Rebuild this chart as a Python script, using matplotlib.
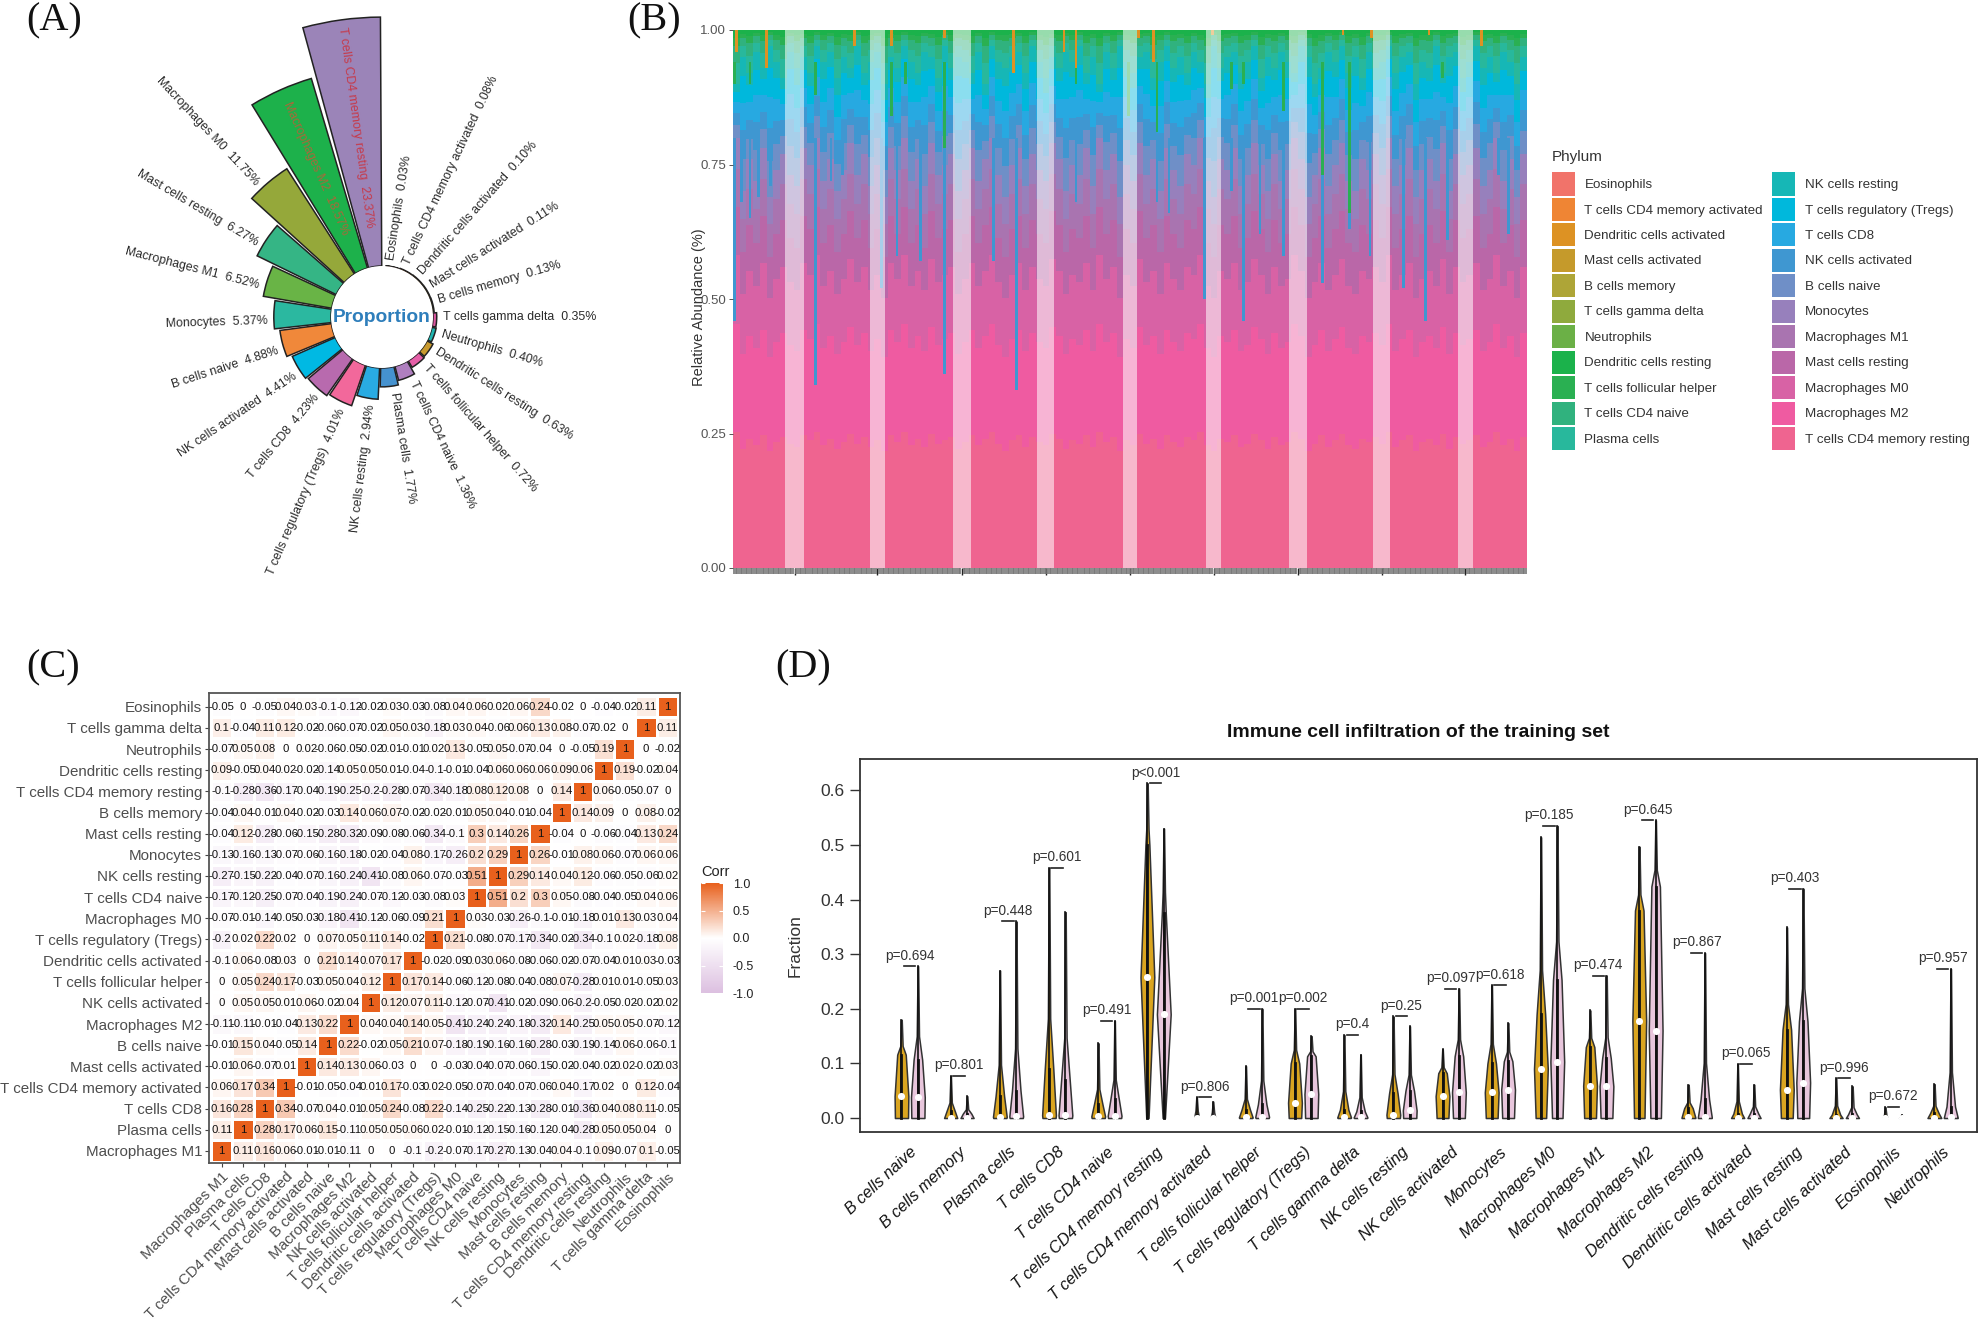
import numpy as np
import matplotlib
matplotlib.use("Agg")
import matplotlib.pyplot as plt
from matplotlib.colors import LinearSegmentedColormap
from matplotlib.patches import Patch
from matplotlib.transforms import ScaledTranslation

plt.rcParams['font.family'] = ['Liberation Sans', 'DejaVu Sans']

W, H = 1980, 1324

# panel A
prop_names = ["Eosinophils", "T cells CD4 memory activated", "Dendritic cells activated", "Mast cells activated",
              "B cells memory", "T cells gamma delta", "Neutrophils", "Dendritic cells resting",
              "T cells follicular helper", "T cells CD4 naive", "Plasma cells", "NK cells resting",
              "T cells regulatory (Tregs)", "T cells CD8", "NK cells activated", "B cells naive", "Monocytes",
              "Macrophages M1", "Mast cells resting", "Macrophages M0", "Macrophages M2", "T cells CD4 memory resting"]
prop_values = [0.03, 0.08, 0.10, 0.11, 0.13, 0.35, 0.40, 0.63, 0.72, 1.36, 1.77, 2.94, 4.01, 4.23, 4.41, 4.88,
               5.37, 6.52, 8.27, 11.75, 18.57, 23.37]
prop_labels = ["0.03%", "0.08%", "0.10%", "0.11%", "0.13%", "0.35%", "0.40%", "0.63%", "0.72%", "1.36%", "1.77%",
               "2.94%", "4.01%", "4.23%", "4.41%", "4.88%", "5.37%", "6.52%", "6.27%", "11.75%", "18.57%", "23.37%"]
prop_colors = ["#F1736A", "#EF8534", "#DD9223", "#C59A2B", "#AEA537", "#D9569E", "#1FB5B0", "#C99A2E", "#E65FA8",
               "#AF7FBF", "#4592CF", "#29ABE2", "#F2689B", "#B86AAE", "#00B9E3", "#F0883A", "#2BB8A0", "#69B446",
               "#35B585", "#95A83A", "#1DB14B", "#9B84B8"]

# panel B
stack_names = ["T cells CD4 memory resting", "Macrophages M2", "Macrophages M0", "Mast cells resting", "Macrophages M1",
               "Monocytes", "B cells naive", "NK cells activated", "T cells CD8", "T cells regulatory (Tregs)",
               "NK cells resting", "Plasma cells", "T cells CD4 naive", "T cells follicular helper",
               "Dendritic cells resting", "Neutrophils", "T cells gamma delta", "B cells memory", "Mast cells activated",
               "Dendritic cells activated", "T cells CD4 memory activated", "Eosinophils"]
stack_means = [23.37, 18.57, 11.75, 8.27, 6.52, 5.37, 4.88, 4.41, 4.23, 4.01, 2.94, 1.77, 1.36, 0.72, 0.63, 0.40,
               0.35, 0.13, 0.11, 0.10, 0.08, 0.03]
stack_colors = ["#EF6490", "#EF5BA1", "#D862A5", "#BA67A8", "#A974B0", "#9780BC", "#6F8FC7", "#3F97D1", "#27A9E1",
                "#00B8DC", "#16B7B6", "#28B89C", "#30B27E", "#2AB052", "#1BB24B", "#6BB046", "#8FAA3D", "#AEA537",
                "#C59A2B", "#DD9223", "#EF8534", "#F1736A"]
legend_names = stack_names[::-1]
legend_colors = stack_colors[::-1]
n_samples = 470
band_edges = [(31, 42), (81, 90), (130, 141), (180, 190), (231, 239), (280, 289), (329, 340), (379, 389), (429, 438)]
# height of the pink-to-purple part and of the blue part, read column by column
lower_top = [.80, .70, .76, .72, .78, .69, .74, .77, .73, .71, .78, .75, .80, .72, .76, .70, .74, .79, .73, .77, .71,
             .75, .69, .78, .74, .80, .72, .76, .71, .79, .73, .75, .77, .70, .74, .78, .72, .76, .80, .73, .69, .75,
             .78, .71, .77, .74, .72, .79, .76, .70, .75, .73, .78, .71, .80, .74, .77, .69, .75, .72, .79, .73, .76,
             .70, .78, .74, .71, .77, .75, .80, .72, .69, .76, .74, .78, .71, .73, .79, .75, .70, .77, .72, .74, .80,
             .76, .69, .73, .78, .71, .75, .79, .72, .70, .76, .74, .77, .73, .80, .71, .75, .78, .69, .74, .76, .72,
             .79, .70, .77, .73, .75, .78, .71, .74, .80, .72, .76, .69, .77]
green_floor = [.90, .95, .92, .96, .93, .97, .94, .91, .96, .93, .95, .92, .97, .94, .96, .91, .95, .93, .97, .92, .94,
               .96, .90, .95, .93, .97, .94, .92, .96, .95, .91, .97, .93, .95, .94, .92, .96, .90, .97, .94, .93, .95,
               .96, .92, .97, .94, .91, .95, .93, .96, .94, .97, .92, .95, .90, .96, .93, .97, .94, .92, .95, .96, .91,
               .94, .97, .93, .95, .92, .96, .94, .90, .97, .93, .95, .96, .92, .94, .97, .91, .95, .93, .96, .94, .92,
               .97, .95, .90, .93, .96, .94, .97, .92, .95, .91, .96, .93, .94, .97, .92, .95, .96, .90, .94, .93, .97,
               .92, .95, .96, .91, .94, .97, .93, .95, .92, .96, .94, .90, .95]
blue_x = [1, 5, 10, 15, 22, 49, 58, 65, 88, 97, 111, 125, 154, 168, 203, 251, 258, 279, 295, 302, 312, 326, 349, 365,
          377, 397, 410, 423, 459, 453]
blue_low = [0.46, 0.68, 0.65, 0.69, 0.71, 0.34, 0.72, 0.73, 0.52, 0.58, 0.57, 0.36, 0.57, 0.33, 0.68, 0.68, 0.66,
            0.50, 0.70, 0.46, 0.62, 0.58, 0.53, 0.63, 0.58, 0.52, 0.46, 0.61, 0.62, 0.73]
green_x = [1, 10, 49, 94, 102, 125, 203, 234, 251, 295, 302, 326, 349, 365, 420]
green_low = [0.90, 0.90, 0.88, 0.84, 0.90, 0.78, 0.90, 0.84, 0.81, 0.89, 0.90, 0.85, 0.73, 0.66, 0.91]
tip_x = [2, 94, 125, 166, 203, 240, 249, 284, 361, 378, 412, 443, 196, 72, 20]
tip_low = [0.96, 0.97, 0.985, 0.92, 0.93, 0.985, 0.94, 0.99, 0.99, 0.985, 0.99, 0.97, 0.96, 0.97, 0.93]

# panel C
row_names = ["Eosinophils", "T cells gamma delta", "Neutrophils", "Dendritic cells resting", "T cells CD4 memory resting",
             "B cells memory", "Mast cells resting", "Monocytes", "NK cells resting", "T cells CD4 naive", "Macrophages M0",
             "T cells regulatory (Tregs)", "Dendritic cells activated", "T cells follicular helper", "NK cells activated",
             "Macrophages M2", "B cells naive", "Mast cells activated", "T cells CD4 memory activated", "T cells CD8",
             "Plasma cells", "Macrophages M1"]
col_names = row_names[::-1]
corr_rows = [
    [-0.05, 0, -0.05, 0.04, 0.03, -0.1, -0.12, -0.02, 0.03, -0.03, -0.08, 0.04, 0.06, 0.02, 0.06, 0.24, -0.02, 0, -0.04, -0.02, 0.11, 1],
    [0.1, -0.04, 0.11, 0.12, -0.02, -0.06, -0.07, -0.02, 0.05, 0.03, -0.18, 0.03, 0.04, -0.06, 0.06, 0.13, 0.08, -0.07, -0.02, 0, 1, 0.11],
    [-0.07, 0.05, 0.08, 0, 0.02, -0.06, -0.05, -0.02, 0.01, -0.01, 0.02, 0.13, -0.05, 0.05, -0.07, -0.04, 0, -0.05, 0.19, 1, 0, -0.02],
    [0.09, -0.05, 0.04, 0.02, -0.02, -0.14, 0.05, 0.05, 0.01, -0.04, -0.1, -0.01, -0.04, 0.06, 0.06, 0.06, 0.09, 0.06, 1, 0.19, -0.02, 0.04],
    [-0.1, -0.28, -0.36, -0.17, -0.04, -0.19, -0.25, -0.2, -0.28, -0.07, -0.34, -0.18, 0.08, 0.12, 0.08, 0, 0.14, 1, 0.06, -0.05, -0.07, 0],
    [-0.04, 0.04, -0.01, 0.04, -0.02, -0.03, 0.14, 0.06, 0.07, -0.02, -0.02, -0.01, 0.05, 0.04, -0.01, -0.04, 1, 0.14, 0.09, 0, 0.08, -0.02],
    [-0.04, 0.12, -0.28, -0.06, -0.15, -0.28, -0.32, -0.09, -0.08, -0.06, -0.34, -0.1, 0.3, 0.14, 0.26, 1, -0.04, 0, -0.06, -0.04, 0.13, 0.24],
    [-0.13, -0.16, -0.13, -0.07, -0.06, -0.16, -0.18, -0.02, -0.04, 0.08, -0.17, -0.26, 0.2, 0.29, 1, 0.26, -0.01, 0.08, 0.06, -0.07, 0.06, 0.06],
    [-0.27, -0.15, -0.22, -0.04, -0.07, -0.16, -0.24, -0.41, -0.08, 0.06, -0.07, -0.03, 0.51, 1, 0.29, 0.14, 0.04, 0.12, -0.06, -0.05, -0.06, 0.02],
    [-0.17, -0.12, -0.25, -0.07, -0.04, -0.19, -0.24, -0.07, -0.12, -0.03, -0.08, 0.03, 1, 0.51, 0.2, 0.3, 0.05, -0.08, -0.04, -0.05, 0.04, 0.06],
    [-0.07, -0.01, -0.14, -0.05, -0.03, -0.18, -0.41, -0.12, -0.06, -0.09, 0.21, 1, 0.03, -0.03, -0.26, -0.1, -0.01, -0.18, 0.01, 0.13, 0.03, 0.04],
    [-0.2, 0.02, 0.22, 0.02, 0, 0.07, 0.05, 0.11, 0.14, -0.02, 1, 0.21, -0.08, -0.07, -0.17, -0.34, -0.02, -0.34, -0.1, 0.02, -0.18, 0.08],
    [-0.1, 0.06, -0.08, 0.03, 0, 0.21, 0.14, 0.07, 0.17, 1, -0.02, -0.09, 0.03, 0.06, -0.08, -0.06, -0.02, -0.07, -0.04, 0.01, 0.03, -0.03],
    [0, 0.05, 0.24, 0.17, -0.03, 0.05, 0.04, 0.12, 1, 0.17, 0.14, -0.06, -0.12, -0.08, -0.04, -0.08, 0.07, -0.28, 0.01, 0.01, -0.05, 0.03],
    [0, 0.05, 0.05, 0.01, 0.06, -0.02, 0.04, 1, 0.12, 0.07, 0.11, -0.12, -0.07, -0.41, -0.02, -0.09, -0.06, -0.2, -0.05, -0.02, -0.02, 0.02],
    [-0.11, -0.11, -0.01, -0.04, 0.13, 0.22, 1, 0.04, 0.04, 0.14, 0.05, -0.41, -0.24, -0.24, -0.18, -0.32, 0.14, -0.25, 0.05, 0.05, -0.07, -0.12],
    [-0.01, 0.15, 0.04, -0.05, 0.14, 1, 0.22, -0.02, 0.05, 0.21, 0.07, -0.18, -0.19, -0.16, -0.16, -0.28, -0.03, -0.19, -0.14, 0.06, -0.06, -0.1],
    [-0.01, 0.06, -0.07, 0.01, 1, 0.14, 0.13, 0.06, -0.03, 0, 0, -0.03, -0.04, -0.07, -0.06, -0.15, -0.02, -0.04, -0.02, 0.02, -0.02, 0.03],
    [0.06, 0.17, 0.34, 1, -0.01, -0.05, -0.04, 0.01, 0.17, -0.03, 0.02, -0.05, -0.07, -0.04, -0.07, -0.06, 0.04, -0.17, 0.02, 0, 0.12, -0.04],
    [0.16, 0.28, 1, 0.34, -0.07, 0.04, -0.01, 0.05, 0.24, -0.08, 0.22, -0.14, -0.25, -0.22, -0.13, -0.28, -0.01, -0.36, 0.04, 0.08, 0.11, -0.05],
    [0.11, 1, 0.28, 0.17, 0.06, 0.15, -0.11, 0.05, 0.05, 0.06, 0.02, -0.01, -0.12, -0.15, -0.16, -0.12, -0.04, -0.28, 0.05, 0.05, 0.04, 0],
    [1, 0.11, 0.16, 0.06, -0.01, -0.01, -0.11, 0, 0, -0.1, -0.2, -0.07, -0.17, -0.27, -0.13, -0.04, 0.04, -0.1, 0.09, -0.07, 0.1, -0.05],
]

# panel D
cell_names = ["B cells naive", "B cells memory", "Plasma cells", "T cells CD8", "T cells CD4 naive",
              "T cells CD4 memory resting", "T cells CD4 memory activated", "T cells follicular helper",
              "T cells regulatory (Tregs)", "T cells gamma delta", "NK cells resting", "NK cells activated", "Monocytes",
              "Macrophages M0", "Macrophages M1", "Macrophages M2", "Dendritic cells resting", "Dendritic cells activated",
              "Mast cells resting", "Mast cells activated", "Eosinophils", "Neutrophils"]
p_labels = ["p=0.694", "p=0.801", "p=0.448", "p=0.601", "p=0.491", "p<0.001", "p=0.806", "p=0.001", "p=0.002", "p=0.4",
            "p=0.25", "p=0.097", "p=0.618", "p=0.185", "p=0.474", "p=0.645", "p=0.867", "p=0.065", "p=0.403", "p=0.996",
            "p=0.672", "p=0.957"]
yellow_max = [0.18, 0.077, 0.27, 0.458, 0.137, 0.613, 0.038, 0.095, 0.20, 0.152, 0.186, 0.126, 0.243, 0.514, 0.197, 0.497,
              0.061, 0.099, 0.349, 0.073, 0.02, 0.062]
yellow_neck = [0.116, 0.012, 0.04, 0.09, 0.025, 0.50, 0.005, 0.015, 0.10, 0.015, 0.045, 0.082, 0.10, 0.19, 0.13, 0.38,
               0.018, 0.008, 0.162, 0.006, 0.002, 0.009]
yellow_median = [0.04, 0.0, 0.002, 0.005, 0.003, 0.258, 0.0, 0.001, 0.028, 0.001, 0.006, 0.04, 0.047, 0.09, 0.059, 0.178,
                 0.001, 0.0, 0.052, 0.0, 0.0, 0.0]
pink_max = [0.278, 0.04, 0.36, 0.377, 0.178, 0.53, 0.03, 0.20, 0.15, 0.116, 0.168, 0.237, 0.174, 0.535, 0.261, 0.545,
            0.302, 0.061, 0.42, 0.058, 0.006, 0.273]
pink_neck = [0.107, 0.008, 0.05, 0.07, 0.034, 0.375, 0.004, 0.025, 0.113, 0.012, 0.05, 0.113, 0.104, 0.253, 0.11, 0.424,
             0.034, 0.008, 0.177, 0.007, 0.001, 0.021]
pink_median = [0.038, 0.0, 0.003, 0.005, 0.004, 0.19, 0.0, 0.002, 0.044, 0.001, 0.014, 0.047, 0.052, 0.103, 0.058, 0.16,
               0.002, 0.0, 0.065, 0.0, 0.0, 0.001]
base_half = [0.4, 0.4, 0.4, 0.4, 0.4, 0.07, 0.12, 0.4, 0.38, 0.4, 0.4, 0.36, 0.36, 0.32, 0.36, 0.32, 0.42, 0.4, 0.36, 0.4,
             0.15, 0.42]


def px_axes(left, top, right, bottom, **kw):
    return fig.add_axes([left / W, 1 - bottom / H, (right - left) / W, (bottom - top) / H], **kw)


fig = plt.figure(figsize=(W / 100, H / 100), dpi=100, facecolor="white")

for tag, x, y in [("(A)", 26, 21), ("(B)", 627, 21), ("(C)", 26, 668), ("(D)", 775, 668)]:
    fig.text(x / W, 1 - y / H, tag, family="Liberation Serif", fontsize=29, va="center", color="#111111")

# A: circular bars
cx, cy, r0, per_unit, rmax = 382, 317, 51, 10.65, 24.5
half = r0 + per_unit * rmax
ax = px_axes(cx - half, cy - half, cx + half, cy + half, projection="polar")
ax.set_theta_zero_location("N")
ax.set_theta_direction(-1)
ax.set_rorigin(-r0 / per_unit)
ax.set_ylim(0, rmax)
ax.axis("off")
step = 16.2
theta_deg = [12 + step * i for i in range(len(prop_values))]
ax.bar(np.radians(theta_deg), prop_values, width=np.radians(15), bottom=0, color=prop_colors,
       edgecolor="#222222", linewidth=1.1)
for name, val, lab, deg in zip(prop_names, prop_values, prop_labels, theta_deg):
    text = f"{name}  {lab}"
    color = "#2A2A2A"
    r = val + 0.6
    deg = deg - 3
    if val > 18:
        r = 3.7
        deg = deg + 3
        color = "#C63A4A" if val > 20 else "#A8693A"
    if deg < 180:
        ax.text(np.radians(deg), r, text, rotation=90 - deg, rotation_mode="anchor", ha="left", va="center",
                fontsize=8.9, color=color)
    else:
        ax.text(np.radians(deg), r, text, rotation=270 - deg, rotation_mode="anchor", ha="right", va="center",
                fontsize=8.9, color=color)
fig.text(cx / W, 1 - cy / H, "Proportion", ha="center", va="center", fontsize=13.8, fontweight="bold", color="#2E7EBB")

# B: stacked bars
ax = px_axes(733, 30, 1527, 568)
means = np.array(stack_means)
col_w = n_samples / len(lower_top)
col_x = (np.arange(len(lower_top)) + 0.5) * col_w
low = np.array(lower_top)
green = np.array(green_floor)
layers = [np.outer(means[:6] / means[:6].sum(), low),
          np.outer(means[6:11] / means[6:11].sum(), green - low),
          np.outer(means[11:15] / means[11:15].sum(), 1 - green)]
heights = np.vstack(layers)
bottoms = np.vstack([np.zeros(len(low)), np.cumsum(heights, axis=0)[:-1]])
for h, b, c in zip(heights, bottoms, stack_colors):
    ax.bar(col_x, h, width=col_w, bottom=b, color=c, linewidth=0, antialiased=False)
ax.bar(blue_x, 0.8 - np.array(blue_low), width=1.6, bottom=blue_low, color="#3F97D1", linewidth=0)
ax.bar(green_x, 0.94 - np.array(green_low), width=1.6, bottom=green_low, color="#2AB052", linewidth=0)
ax.bar(tip_x, 1 - np.array(tip_low), width=1.6, bottom=tip_low, color="#DD9223", linewidth=0)
for a, b in band_edges:
    ax.axvspan(a, b, color="white", alpha=0.55, linewidth=0)
ax.set_xlim(0, n_samples)
ax.set_ylim(0, 1)
ax.set_xticks(np.arange(0.5, n_samples), minor=True)
ax.set_xticks([(a + b) / 2 for a, b in band_edges])
ax.set_xticklabels([])
ax.tick_params(axis="x", which="minor", length=4, width=1.2, color="#777777")
ax.tick_params(axis="x", which="major", length=5, width=1.0, color="#222222")
ax.set_yticks([0, 0.25, 0.5, 0.75, 1.0])
ax.set_yticklabels(["0.00", "0.25", "0.50", "0.75", "1.00"], fontsize=9.5, color="#555555")
ax.tick_params(axis="y", length=3, width=0.7, color="#555555", pad=2)
ax.set_ylabel("Relative Abundance (%)", fontsize=10.5, color="#333333")
ax.yaxis.set_label_coords(-0.034, 0.484)
for s in ax.spines.values():
    s.set_visible(False)

handles = [Patch(facecolor=c, edgecolor="none", label=n) for c, n in zip(legend_colors, legend_names)]
leg = fig.legend(handles=handles, ncols=2, loc="upper left", bbox_to_anchor=(1552 / W, 1 - 150 / H), frameon=False,
                 fontsize=9.6, title="Phylum", title_fontsize=11, handlelength=1.73, handleheight=2.3,
                 labelspacing=0.17, handletextpad=0.7, columnspacing=0.7, borderpad=0, borderaxespad=0)
leg.get_title().set_color("#333333")
leg._legend_box.align = "left"
leg._legend_box.sep = 6
for t in leg.get_texts():
    t.set_color("#333333")

# C: correlation heatmap
ax = px_axes(209, 693, 680, 1163)
corr = np.array(corr_rows)
cmap = LinearSegmentedColormap.from_list("corr", ["#DCBFE0", "#FFFFFF", "#E8601C"])
mesh = ax.pcolormesh(np.arange(23), np.arange(23), corr, cmap=cmap, vmin=-1, vmax=1, edgecolors="white", linewidth=0.8)
ax.set_xlim(-0.1, 22.1)
ax.set_ylim(22.07, -0.15)
for i in range(22):
    for j in range(22):
        ax.text(j + 0.5, i + 0.5, f"{corr[i, j]:g}", ha="center", va="center", fontsize=8.2, color="#111111")
ax.set_xticks(np.arange(22) + 0.5)
ax.set_xticklabels(col_names, rotation=45, ha="right", rotation_mode="anchor", fontsize=10.9, color="#4D4D4D")
ax.set_yticks(np.arange(22) + 0.5)
ax.set_yticklabels(row_names, fontsize=10.9, color="#4D4D4D")
ax.tick_params(length=3, width=0.8, color="#444444", pad=2)
for s in ax.spines.values():
    s.set_linewidth(1.3)
    s.set_color("#555555")
cax = px_axes(701, 883, 723, 993)
cb = fig.colorbar(mesh, cax=cax)
cb.set_ticks([-1, -0.5, 0, 0.5, 1])
cb.set_ticklabels(["-1.0", "-0.5", "0.0", "0.5", "1.0"])
cb.ax.tick_params(labelsize=9, length=3, width=0.8, color="white", direction="in", left=True, right=True,
                  labelcolor="#222222", pad=7)
cb.outline.set_visible(False)
cax.set_title("Corr", fontsize=10.5, loc="left", color="#222222", pad=5)

# D: violins
ax = px_axes(860, 759, 1977, 1132)
ax.set_xlim(-1.53, 66.6)
ax.set_ylim(-0.0256, 0.6575)


def draw_violin(pos, top, neck, median, base, color):
    peak = max(median, 0.0)
    if neck <= peak:
        peak = 0.0
    knee = neck + (top - neck) * 0.25
    ys = [0, peak, neck, knee, top]
    hw = [base, 0.42 if peak > 0 else base, 0.26 if base > 0.2 else 0.12, 0.07, 0.015]
    ax.fill_betweenx(ys, [pos - w for w in hw], [pos + w for w in hw], facecolor=color, edgecolor="#333333", linewidth=1.1,
                     zorder=2)
    ax.plot([pos, pos], [0, top], color="#111111", linewidth=1.2, zorder=3)
    ax.plot([pos, pos], [0, neck], color="#111111", linewidth=2.0, zorder=3)
    ax.scatter([pos], [median], s=26, color="white", linewidth=0, zorder=4)


for i, name in enumerate(cell_names):
    x1, x2 = 3 * i + 1, 3 * i + 2
    draw_violin(x1, yellow_max[i], yellow_neck[i], yellow_median[i], base_half[i], "#DAA520")
    draw_violin(x2, pink_max[i], pink_neck[i], pink_median[i], base_half[i], "#E8C6DC")
    top = max(yellow_max[i], pink_max[i])
    mid = (x1 + x2) / 2
    ax.plot([mid - 0.35, mid + 0.35], [top, top], color="#222222", linewidth=1.2)
    ax.text(mid, top + 0.0195, p_labels[i], ha="center", va="center", fontsize=9.8, color="#333333")
ax.set_xticks([3 * i + 1.5 for i in range(22)])
ax.set_xticklabels(cell_names, rotation=43, ha="right", rotation_mode="anchor", fontsize=11.6, fontstyle="italic",
                   color="#111111")
shift = ScaledTranslation(-10 / 72, 0, fig.dpi_scale_trans)
for lab in ax.get_xticklabels():
    lab.set_transform(lab.get_transform() + shift)
ax.tick_params(axis="x", length=0, pad=9)
ax.set_yticks([0, 0.1, 0.2, 0.3, 0.4, 0.5, 0.6])
ax.set_yticklabels(["0.0", "0.1", "0.2", "0.3", "0.4", "0.5", "0.6"], fontsize=12.5, color="#333333")
ax.tick_params(axis="y", length=7, width=1, color="#333333", pad=4)
ax.set_ylabel("Fraction", fontsize=12.5, color="#333333", labelpad=13)
ax.set_title("Immune cell infiltration of the training set", fontsize=14, fontweight="bold", color="#111111", pad=16)
for s in ax.spines.values():
    s.set_linewidth(1.3)
    s.set_color("#333333")

fig.savefig("out.png", dpi=100)
